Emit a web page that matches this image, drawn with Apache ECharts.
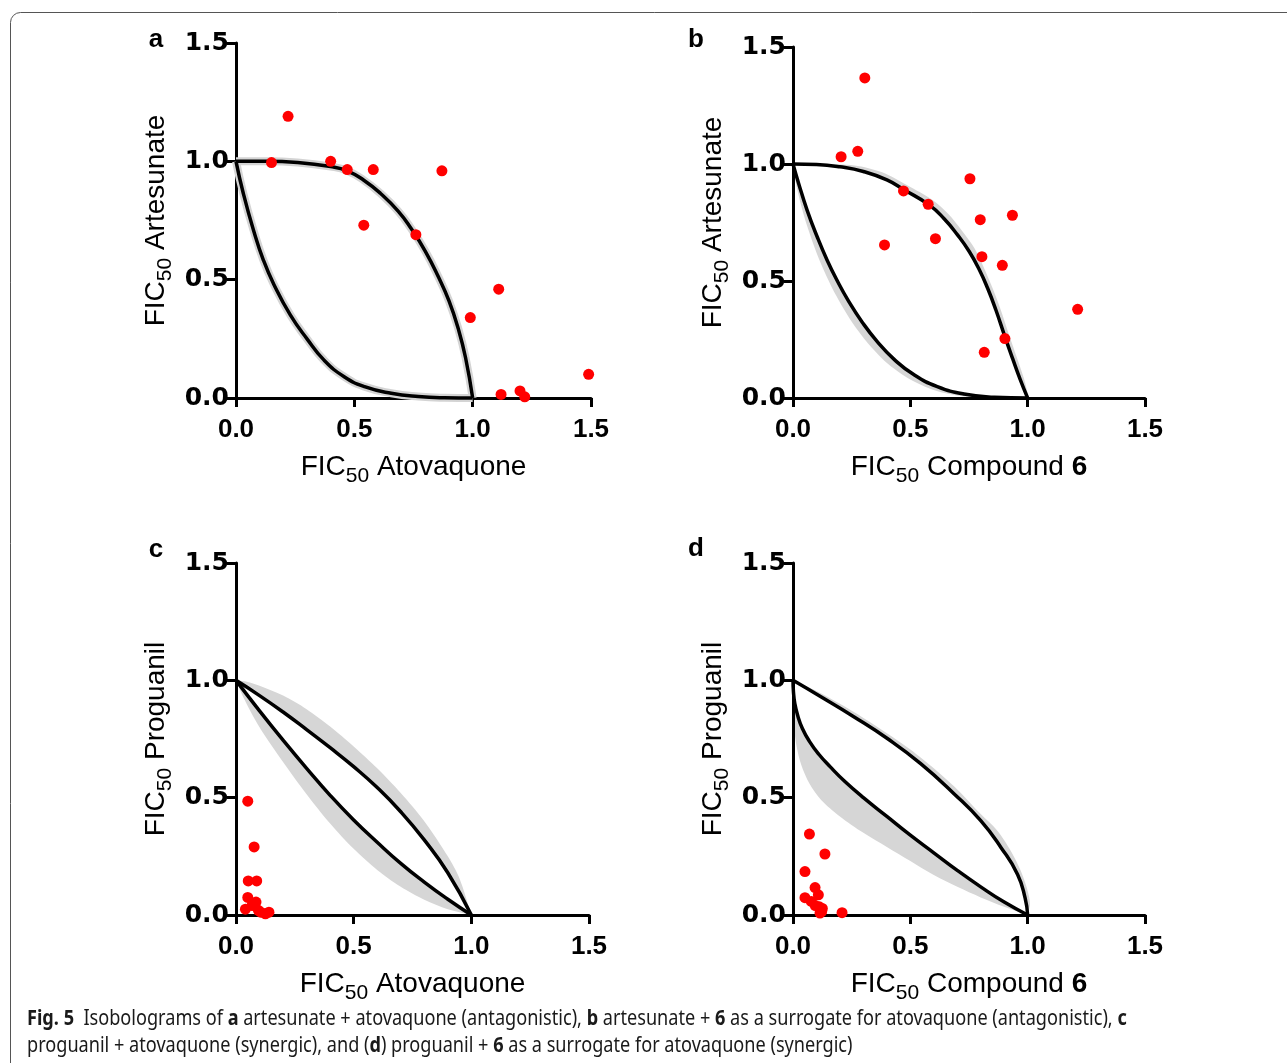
<!DOCTYPE html>
<html>
<head>
<meta charset="utf-8">
<script src="https://cdn.jsdelivr.net/npm/echarts@6/dist/echarts.min.js"></script>
<style>
  html, body { margin: 0; padding: 0; background: #fff; }
  #chart { width: 1287px; height: 1063px; }
</style>
</head>
<body>
<div id="chart"></div>
<script>
// axis ticks, same for every panel
var ticks = [0, 0.5, 1.0, 1.5];

// a: artesunate + atovaquone
var pointsA = [[0.15, 0.995], [0.22, 1.19], [0.40, 1.0], [0.47, 0.965], [0.58, 0.965], [0.87, 0.96],
  [0.54, 0.73], [0.76, 0.69], [1.11, 0.46], [0.99, 0.34], [1.49, 0.10], [1.12, 0.015], [1.20, 0.03], [1.22, 0.005]];
var curveA1 = [[0, 1], [0.13, 1.0], [0.26, 0.995], [0.40, 0.978], [0.47, 0.96], [0.54, 0.92], [0.61, 0.865],
  [0.685, 0.79], [0.74, 0.716], [0.80, 0.62], [0.855, 0.512], [0.90, 0.41], [0.94, 0.29], [0.97, 0.17], [1, 0]];
var curveA2 = [[0, 1], [0.031, 0.864], [0.074, 0.709], [0.116, 0.582], [0.16, 0.48], [0.23, 0.35], [0.30, 0.25],
  [0.372, 0.16], [0.457, 0.09], [0.543, 0.048], [0.656, 0.02], [0.77, 0.006], [0.88, 0.001], [1, 0]];

// b: artesunate + compound 6
var pointsB = [[0.306, 1.368], [0.205, 1.031], [0.276, 1.054], [0.754, 0.937], [0.471, 0.885], [0.576, 0.828],
  [0.39, 0.654], [0.607, 0.681], [0.798, 0.762], [0.935, 0.781], [0.805, 0.604], [0.892, 0.567],
  [1.213, 0.379], [0.903, 0.254], [0.815, 0.195]];
var curveB1 = [[0, 1], [0.1, 0.998], [0.2, 0.988], [0.3, 0.968], [0.4, 0.932], [0.473, 0.89], [0.58, 0.825],
  [0.644, 0.766], [0.701, 0.697], [0.751, 0.626], [0.793, 0.55], [0.829, 0.47], [0.865, 0.375],
  [0.903, 0.262], [0.936, 0.168], [0.968, 0.08], [1, 0]];
var bandB1 = [[0, 1], [0.12, 1.0], [0.262, 0.994], [0.38, 0.965], [0.485, 0.91], [0.596, 0.845], [0.662, 0.786],
  [0.72, 0.715], [0.772, 0.642], [0.812, 0.56], [0.848, 0.475], [0.884, 0.38], [0.922, 0.265], [0.955, 0.17],
  [0.985, 0.08], [1.004, 0]];
var curveB2 = [[0, 1], [0.024, 0.917], [0.06, 0.803], [0.103, 0.689], [0.145, 0.59], [0.188, 0.502], [0.238, 0.412],
  [0.295, 0.324], [0.359, 0.241], [0.43, 0.166], [0.516, 0.099], [0.615, 0.049], [0.729, 0.017], [0.858, 0.003], [1, 0]];
var bandB2 = [[0, 1], [0.015, 0.905], [0.045, 0.785], [0.083, 0.668], [0.122, 0.567], [0.163, 0.478], [0.212, 0.388],
  [0.268, 0.3], [0.334, 0.217], [0.408, 0.143], [0.498, 0.08], [0.603, 0.033], [0.722, 0.007], [0.858, 0], [1, 0]];

// c: proguanil + atovaquone
var pointsC = [[0.05, 0.485], [0.077, 0.29], [0.052, 0.145], [0.088, 0.145], [0.05, 0.075], [0.085, 0.055],
  [0.068, 0.04], [0.04, 0.025], [0.095, 0.02], [0.105, 0.012], [0.125, 0.005], [0.14, 0.012]];
var curveC1 = [[0, 1], [0.1, 0.935], [0.2, 0.865], [0.3, 0.79], [0.4, 0.713], [0.5, 0.632], [0.6, 0.543],
  [0.7, 0.44], [0.8, 0.32], [0.9, 0.18], [1, 0]];
var bandC1 = [[0, 1], [0.05, 0.993], [0.1, 0.977], [0.2, 0.935], [0.3, 0.877], [0.4, 0.803], [0.5, 0.718],
  [0.6, 0.625], [0.7, 0.52], [0.8, 0.4], [0.9, 0.25], [0.95, 0.155], [1, 0]];
var curveC2 = [[0, 1], [0.1, 0.87], [0.2, 0.745], [0.3, 0.625], [0.4, 0.51], [0.5, 0.405], [0.6, 0.31],
  [0.7, 0.22], [0.8, 0.14], [0.9, 0.067], [1, 0]];
var bandC2 = [[0, 1], [0.03, 0.93], [0.1, 0.8], [0.2, 0.652], [0.3, 0.515], [0.4, 0.39], [0.5, 0.282], [0.6, 0.192],
  [0.7, 0.12], [0.8, 0.065], [0.9, 0.025], [1, 0]];

// d: proguanil + compound 6
var pointsD = [[0.07, 0.345], [0.136, 0.26], [0.051, 0.185], [0.094, 0.117], [0.108, 0.086], [0.051, 0.074],
  [0.078, 0.058], [0.095, 0.04], [0.112, 0.035], [0.125, 0.028], [0.122, 0.014], [0.115, 0.008], [0.209, 0.01]];
var curveD1 = [[0, 1], [0.117, 0.931], [0.259, 0.845], [0.402, 0.752], [0.544, 0.645], [0.687, 0.516],
  [0.8, 0.402], [0.886, 0.288], [0.957, 0.173], [0.989, 0.073], [1, 0]];
var bandD1 = [[0, 1], [0.1, 0.955], [0.2, 0.9], [0.3, 0.84], [0.4, 0.775], [0.5, 0.705], [0.6, 0.625], [0.7, 0.535],
  [0.8, 0.43], [0.87, 0.36], [0.93, 0.27], [0.97, 0.19], [0.995, 0.12], [1.01, 0.05], [1, 0]];
var curveD2 = [[0, 1], [0.002, 0.95], [0.008, 0.9], [0.02, 0.85], [0.04, 0.795], [0.07, 0.74], [0.11, 0.685],
  [0.16, 0.63], [0.22, 0.57], [0.3, 0.5], [0.4, 0.42], [0.5, 0.34], [0.6, 0.265], [0.7, 0.19], [0.8, 0.12],
  [0.9, 0.055], [1, 0]];
var bandD2 = [[0, 1], [0, 0.9], [0.005, 0.8], [0.015, 0.72], [0.035, 0.64], [0.07, 0.56], [0.12, 0.49], [0.2, 0.42],
  [0.3, 0.35], [0.4, 0.29], [0.5, 0.23], [0.6, 0.17], [0.7, 0.12], [0.8, 0.075], [0.9, 0.035], [1, 0]];

var font = '"Liberation Sans", Arial, sans-serif';
var yFont = '"DejaVu Sans", sans-serif';

var grids = [
  { left: 236, top: 43, width: 355, height: 355 },
  { left: 793, top: 47, width: 352, height: 351 },
  { left: 236, top: 563, width: 353, height: 352 },
  { left: 793, top: 563, width: 352, height: 352 }
];

function nameRich() {
  return {
    m: { fontSize: 28, fontFamily: font, color: '#000', lineHeight: 40, verticalAlign: 'middle' },
    s: { fontSize: 21, fontFamily: font, color: '#000', lineHeight: 21, verticalAlign: 'bottom' },
    b: { fontSize: 28, fontFamily: font, fontWeight: 'bold', color: '#000', lineHeight: 40, verticalAlign: 'middle' }
  };
}

function axisBase(i) {
  return {
    type: 'value', gridIndex: i,
    min: ticks[0], max: ticks[ticks.length - 1], interval: ticks[1] - ticks[0],
    nameLocation: 'middle',
    nameTextStyle: { rich: nameRich() },
    axisLine: { show: true, onZero: false, lineStyle: { color: '#000', width: 3 } },
    axisTick: { show: true, length: 9, lineStyle: { color: '#000', width: 3 } },
    splitLine: { show: false },
    z: 2
  };
}

function xAxisOf(i, name) {
  var ax = axisBase(i);
  ax.name = name;
  ax.nameGap = 49;
  ax.axisLabel = { show: true, showMinLabel: true, showMaxLabel: true, margin: 19, fontSize: 26,
    fontWeight: 'bold', fontFamily: font, color: '#000', formatter: function (v) { return v.toFixed(1); } };
  return ax;
}

function yAxisOf(i, name) {
  var ax = axisBase(i);
  ax.name = name;
  ax.nameGap = 60;
  ax.axisLabel = { show: true, showMinLabel: true, showMaxLabel: true, margin: 7, fontSize: 25,
    fontWeight: 'bold', fontFamily: yFont, color: '#000', formatter: function (v) { return v.toFixed(1); } };
  return ax;
}

function band(i, outer, inner) {
  return {
    type: 'custom', xAxisIndex: i, yAxisIndex: i, z: 1, silent: true, clip: false,
    data: [[0, 0]],
    renderItem: function (params, api) {
      var pts = outer.concat(inner.slice().reverse()).map(function (p) { return api.coord(p); });
      return { type: 'polygon', shape: { points: pts, smooth: 0.3 }, style: { fill: '#d6d6d6' } };
    }
  };
}

function curve(i, data, color, width, z) {
  return {
    type: 'line', xAxisIndex: i, yAxisIndex: i, data: data, showSymbol: false, symbol: 'none',
    smooth: 0.5, silent: true, clip: false, z: z,
    lineStyle: { color: color, width: width }
  };
}

function dots(i, data) {
  return {
    type: 'scatter', xAxisIndex: i, yAxisIndex: i, data: data, symbolSize: 11, z: 5, clip: false,
    itemStyle: { color: '#ff0000', opacity: 1 }
  };
}

var xNames = [
  '{m|FIC}{s|50}{m| Atovaquone}',
  '{m|FIC}{s|50}{m| Compound }{b|6}',
  '{m|FIC}{s|50}{m| Atovaquone}',
  '{m|FIC}{s|50}{m| Compound }{b|6}'
];
var yNames = [
  '{m|FIC}{s|50}{m| Artesunate}',
  '{m|FIC}{s|50}{m| Artesunate}',
  '{m|FIC}{s|50}{m| Proguanil}',
  '{m|FIC}{s|50}{m| Proguanil}'
];
var letters = [['a', 156, 40], ['b', 696, 40], ['c', 156, 550], ['d', 696, 549]];

var caption =
  '{b|Fig. 5}{r|  Isobolograms of }{b|a}{r| artesunate + atovaquone (antagonistic), }{b|b}{r| artesunate + }{b|6}' +
  '{r| as a surrogate for atovaquone (antagonistic), }{b|c}\n' +
  '{r|proguanil + atovaquone (synergic), and (}{b|d}{r|) proguanil + }{b|6}{r| as a surrogate for atovaquone (synergic)}';

var capFont = '"Noto Sans", "Open Sans", sans-serif';

var graphics = [{
  type: 'rect', z: 0, silent: true,
  shape: { x: 10.5, y: 12.5, width: 1400, height: 1200, r: 10 },
  style: { fill: 'none', stroke: '#555', lineWidth: 1 }
}, {
  type: 'text', x: 27, y: 1006, scaleX: 0.863, silent: true,
  style: {
    text: caption, align: 'left', verticalAlign: 'top',
    rich: {
      b: { fontFamily: capFont, fontSize: 21, fontWeight: 'bold', fill: '#1a1a1a', lineHeight: 27 },
      r: { fontFamily: capFont, fontSize: 21, fill: '#1a1a1a', lineHeight: 27 }
    }
  }
}];
letters.forEach(function (l) {
  graphics.push({
    type: 'text', x: l[1], y: l[2], silent: true,
    style: { text: l[0], font: 'bold 26px ' + font, fill: '#000', align: 'center', verticalAlign: 'middle' }
  });
});

var series = [
  curve(0, curveA1, '#d4d4d4', 8, 2),
  curve(0, curveA2, '#d4d4d4', 8, 2),
  curve(0, curveA1, '#000', 3.5, 3),
  curve(0, curveA2, '#000', 3.5, 3),
  dots(0, pointsA),
  band(1, bandB1, curveB1),
  band(1, bandB2, curveB2),
  curve(1, curveB1, '#000', 3.5, 3),
  curve(1, curveB2, '#000', 3.5, 3),
  dots(1, pointsB),
  band(2, bandC1, curveC1),
  band(2, bandC2, curveC2),
  curve(2, curveC1, '#000', 3.5, 3),
  curve(2, curveC2, '#000', 3.5, 3),
  dots(2, pointsC),
  band(3, bandD1, curveD1),
  band(3, bandD2, curveD2),
  curve(3, curveD1, '#000', 3.5, 3),
  curve(3, curveD2, '#000', 3.5, 3),
  dots(3, pointsD)
];

var chart = echarts.init(document.getElementById('chart'), null, { renderer: 'canvas' });
chart.setOption({
  animation: false,
  backgroundColor: '#fff',
  grid: grids.map(function (g) { return Object.assign({ outerBoundsMode: 'none' }, g); }),
  xAxis: xNames.map(function (n, i) { return xAxisOf(i, n); }),
  yAxis: yNames.map(function (n, i) { return yAxisOf(i, n); }),
  graphic: graphics,
  series: series
});
</script>
</body>
</html>
